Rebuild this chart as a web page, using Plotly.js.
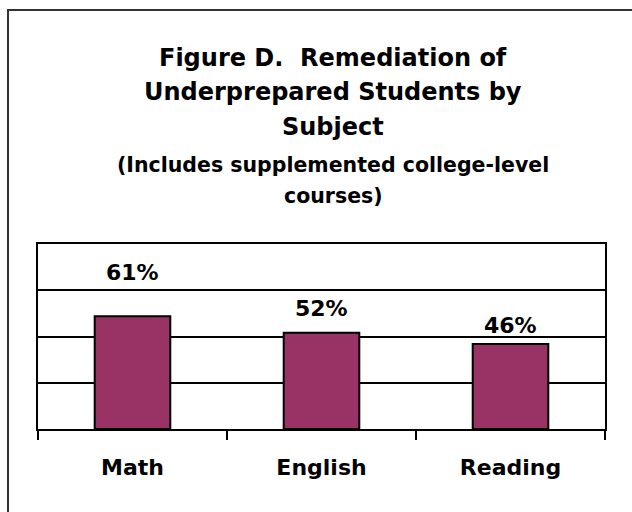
<!DOCTYPE html>
<html>
<head>
<meta charset="utf-8">
<script src="https://cdn.plot.ly/plotly-3.0.1.min.js"></script>
<style>
  html, body { margin: 0; padding: 0; background: #ffffff; }
  #frame { position: absolute; left: 7px; top: 9px; width: 640px; height: 520px;
           border-left: 2px solid #333; border-top: 2px solid #333; pointer-events: none; }
  #chart { position: absolute; left: 0; top: 0; width: 632px; height: 512px; }
</style>
</head>
<body>
<div id="chart"></div>
<div id="frame"></div>
<script>
// ---- data ----
const categories = ["Math", "English", "Reading"];
const values = [61, 52, 46];
const valueLabels = ["61%", "52%", "46%"];
const titleLines = ["Figure D.  Remediation of", "Underprepared Students by", "Subject"];
const subtitleLines = ["(Includes supplemented college-level", "courses)"];

// ---- styling ----
const FONT = "DejaVu Sans, Verdana, sans-serif";
const labelShift = [44, 24, 18.5];          // px from bar top to label centre (as in reference)
const plotTop = 244, plotBottom = 429;
const plotH = plotBottom - plotTop;
const py = p => (plotBottom - p) / plotH;    // pixel y -> paper y
const titleY = [57.8, 91.8, 126.5];
const subY = [164.5, 195.5];
const titleX = (333 - 38) / 567;

const annotations = [];
titleLines.forEach((t, i) => annotations.push({
  text: "<b>" + t + "</b>", xref: "paper", yref: "paper", x: titleX, y: py(titleY[i]),
  xanchor: "center", yanchor: "middle", showarrow: false,
  font: { family: FONT, size: 24, color: "#000" }
}));
subtitleLines.forEach((t, i) => annotations.push({
  text: "<b>" + t + "</b>", xref: "paper", yref: "paper", x: titleX, y: py(subY[i]),
  xanchor: "center", yanchor: "middle", showarrow: false,
  font: { family: FONT, size: 20.5, color: "#000" }
}));
categories.forEach((c, i) => annotations.push({
  text: "<b>" + valueLabels[i] + "</b>", x: c, y: values[i], xref: "x", yref: "y",
  xanchor: "center", yanchor: "middle", yshift: labelShift[i], showarrow: false,
  font: { family: FONT, size: 22, color: "#000" }
}));

const trace = {
  type: "bar", x: categories, y: values,
  marker: { color: "#993366", line: { color: "#000", width: 2 } },
  width: 0.4, hoverinfo: "none"
};

const layout = {
  width: 632, height: 512,
  margin: { l: 38, r: 27, t: plotTop, b: 512 - plotBottom, pad: 0 },
  paper_bgcolor: "#ffffff", plot_bgcolor: "#ffffff",
  showlegend: false,
  font: { family: FONT, color: "#000" },
  xaxis: {
    type: "category", tickson: "boundaries", ticks: "outside", ticklen: 9, tickwidth: 2,
    tickcolor: "#000", showline: true, linecolor: "#000", linewidth: 2, mirror: true,
    showgrid: false, ticklabelstandoff: 18,
    tickfont: { family: FONT, size: 22, color: "#000", weight: "bold" }
  },
  yaxis: {
    range: [0, 100], dtick: 25, tick0: 0, showticklabels: false, ticks: "",
    showline: true, linecolor: "#000", linewidth: 2, mirror: true,
    showgrid: true, gridcolor: "#000", gridwidth: 2, zeroline: false, fixedrange: true
  },
  annotations: annotations
};

Plotly.newPlot("chart", [trace], layout, { staticPlot: true, displayModeBar: false });
</script>
</body>
</html>
